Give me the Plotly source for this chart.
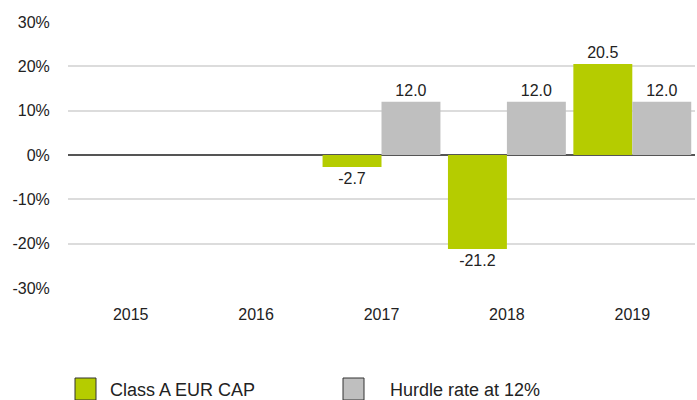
import plotly.graph_objects as go

years = ["2015", "2016", "2017", "2018", "2019"]
class_a = [None, None, -2.7, -21.2, 20.5]
hurdle = [None, None, 12.0, 12.0, 12.0]
y_ticks = [-30, -20, -10, 0, 10, 20, 30]
y_tick_labels = ["-30%", "-20%", "-10%", "0%", "10%", "20%", "30%"]
series_names = ["Class A EUR CAP", "Hurdle rate at 12%"]
colors = ["#b5cc00", "#bfbfbf"]

font_family = "Liberation Sans, Arial, Helvetica, sans-serif"

def fmt(vals):
    return [("" if v is None else f"{v:.1f}") for v in vals]

fig = go.Figure()
for name, vals, col in zip(series_names, [class_a, hurdle], colors):
    fig.add_trace(go.Bar(
        x=years, y=vals, name=name, marker=dict(color=col, line=dict(width=0)),
        text=fmt(vals), textposition="outside", cliponaxis=False,
        textfont=dict(size=16, color="#222222", family=font_family),
        showlegend=False,
    ))

L, R, T, B = 68, 2, 22, 112
fig.update_layout(
    width=697, height=400,
    margin=dict(l=L, r=R, t=T, b=B),
    barmode="group", bargap=0.06, bargroupgap=0,
    plot_bgcolor="white", paper_bgcolor="white",
    font=dict(family=font_family, size=16, color="#222222"),
    xaxis=dict(showgrid=False, showline=False, ticks="outside", ticklen=12,
               tickcolor="rgba(0,0,0,0)", tickfont=dict(size=16)),
    yaxis=dict(range=[-30, 30], tickvals=y_ticks, ticktext=y_tick_labels,
               showgrid=True, gridcolor="#dcdcdc", gridwidth=1.5,
               zeroline=True, zerolinecolor="#555555", zerolinewidth=1.5,
               showline=False, ticks="outside", ticklen=14,
               tickcolor="rgba(0,0,0,0)", tickfont=dict(size=16)),
)

# legend drawn as shapes + text
legend_x = [(75, 96, 108), (343, 364, 388)]
W, H = 697, 400
pw = W - L - R
ph = H - T - B
def px(xp):
    return (xp - L) / pw
def py(yp):
    return (H - B - yp) / ph
for (x0, x1, tx), name, col in zip(legend_x, series_names, colors):
    fig.add_shape(type="rect", xref="paper", yref="paper",
                  x0=px(x0), x1=px(x1), y0=py(378), y1=py(400),
                  fillcolor=col, line=dict(color="#333333", width=1))
    fig.add_annotation(xref="paper", yref="paper", x=px(tx), y=py(390),
                       text=name, showarrow=False, xanchor="left", yanchor="middle",
                       font=dict(size=18, color="#222222", family=font_family))

fig.write_html("out.html")
